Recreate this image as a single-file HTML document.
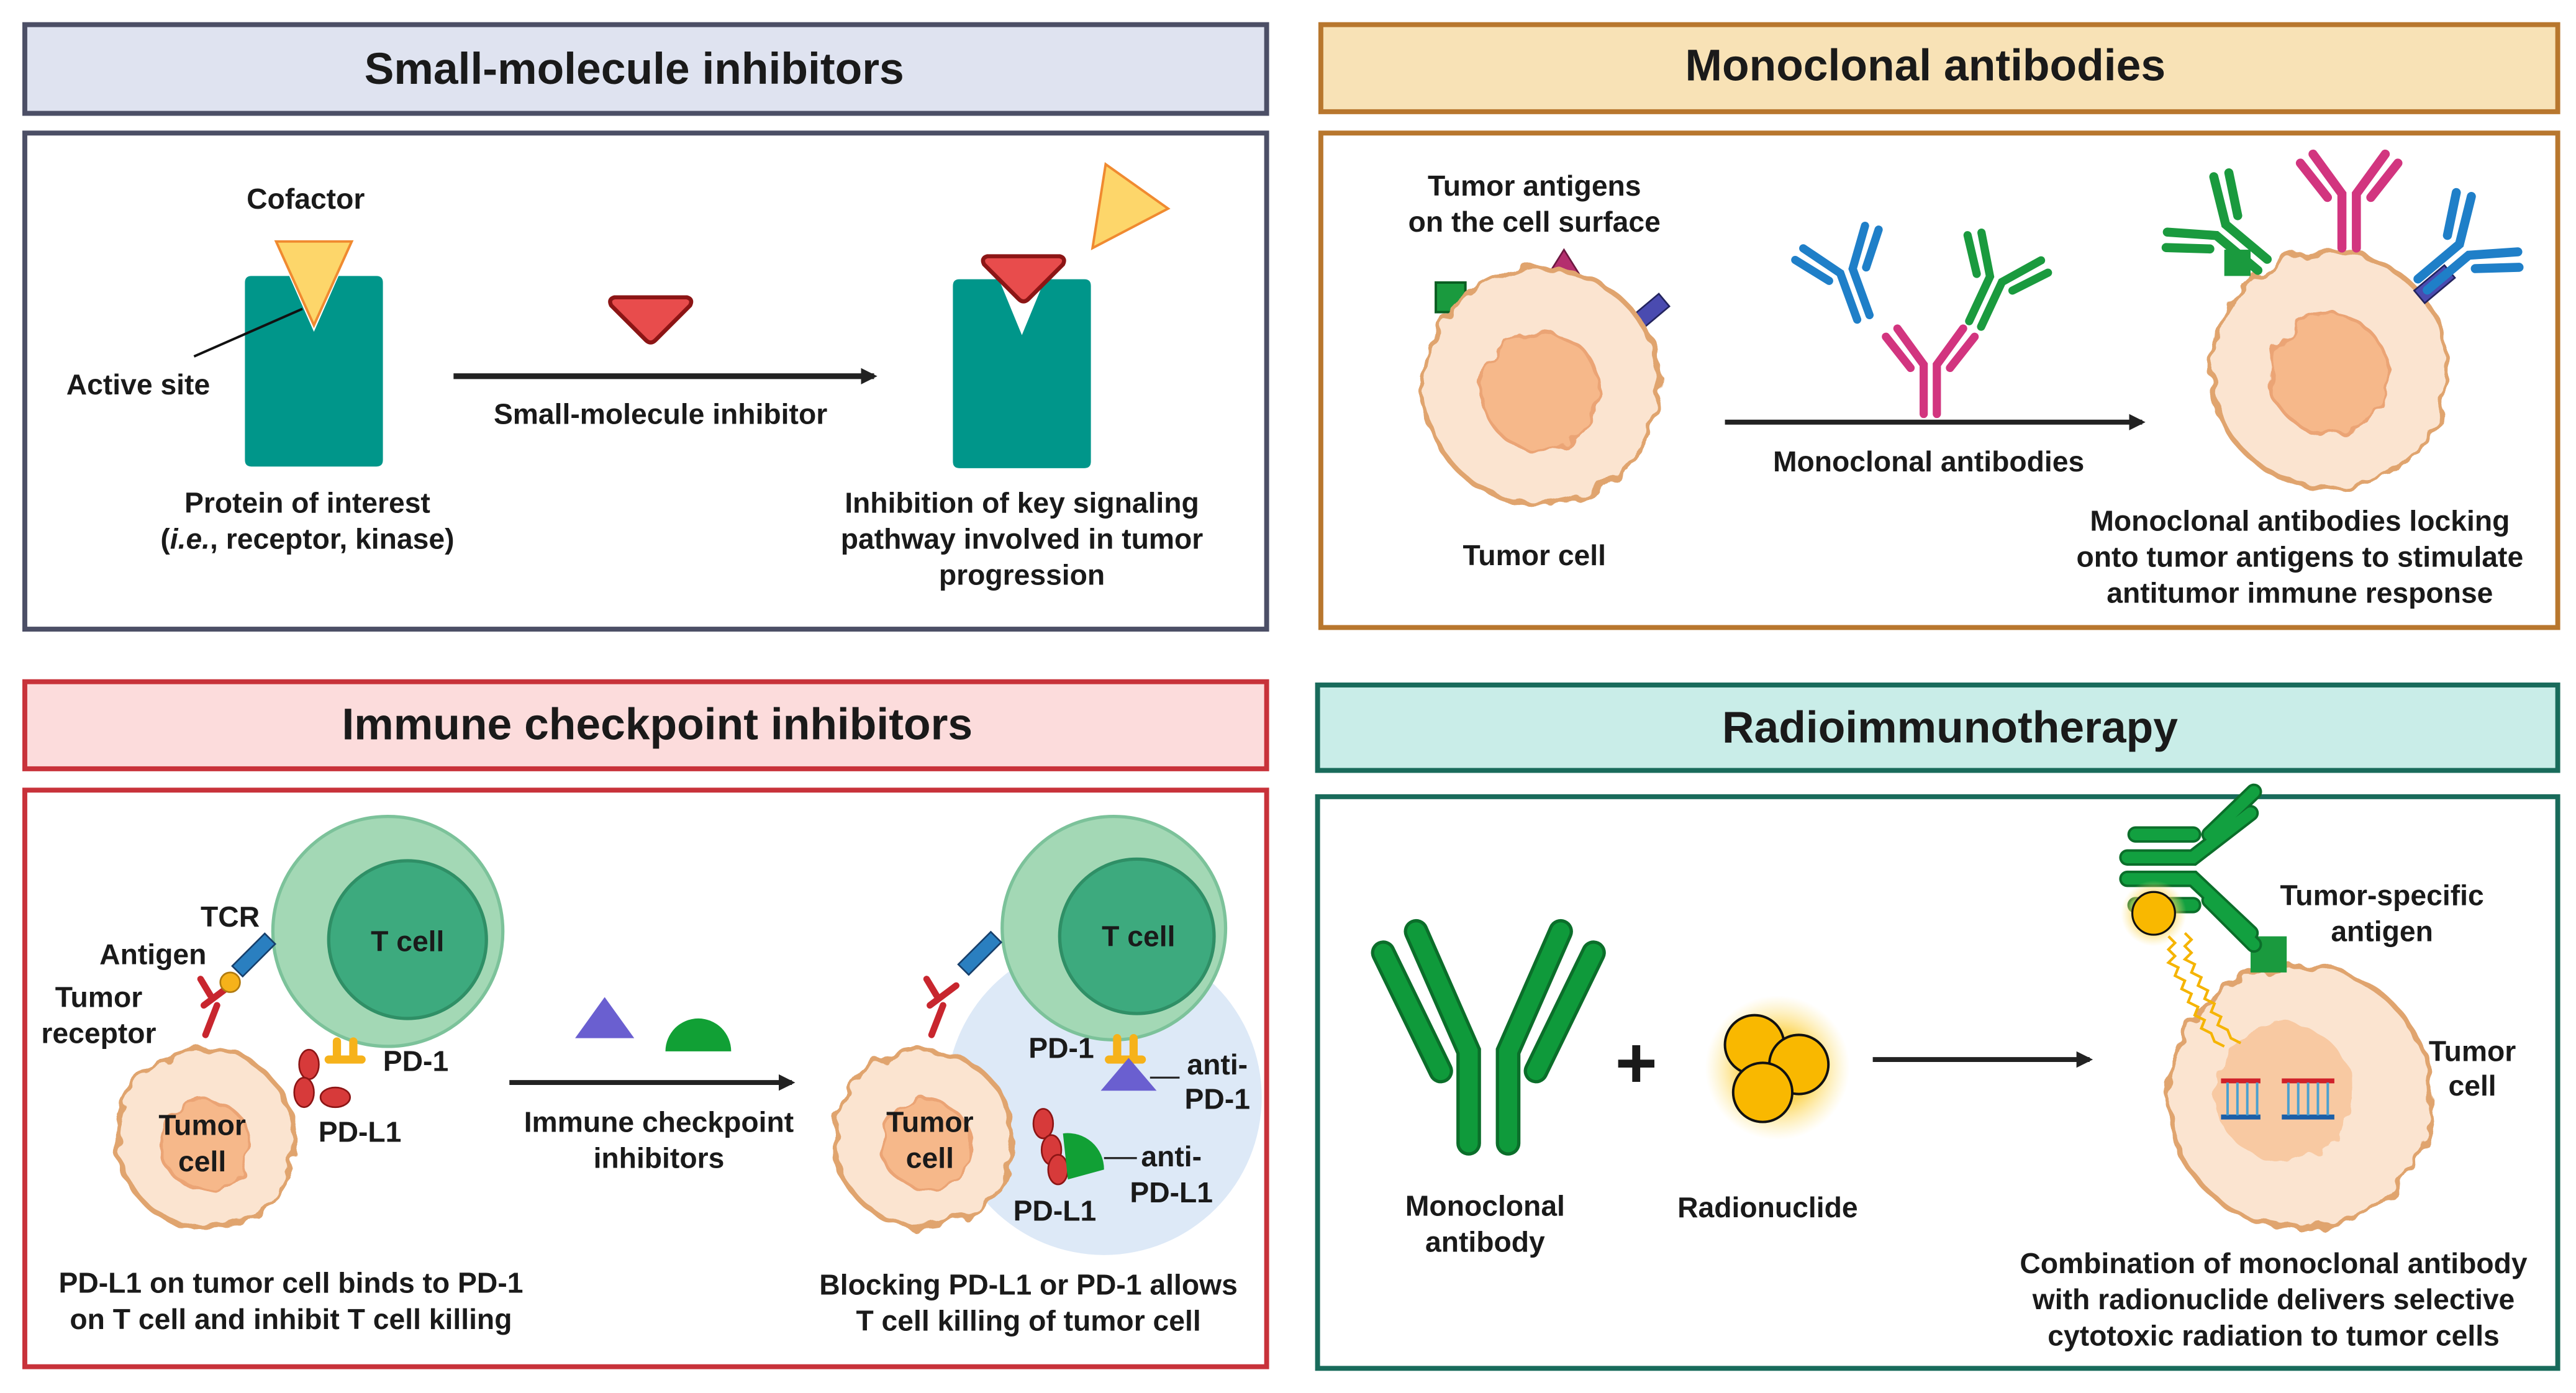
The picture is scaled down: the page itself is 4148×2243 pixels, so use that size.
<!DOCTYPE html>
<html><head><meta charset="utf-8"><style>
html,body{margin:0;padding:0;background:#fff}
svg{display:block}
text{font-family:"Liberation Sans",sans-serif;font-weight:bold;fill:#1a1a1a;text-anchor:middle}
.t{font-size:27px}
.l{font-size:17.5px}
.cell{fill:#fbe4d0;stroke:#e0a46e;stroke-width:3}
.nuc{fill:#f6b88a;stroke:#eba474;stroke-width:2}
</style></head><body>
<svg width="4148" height="2243" viewBox="0 0 1568 848" xmlns="http://www.w3.org/2000/svg">
<defs>
<filter id="wob" x="-20%" y="-20%" width="140%" height="140%">
<feTurbulence type="fractalNoise" baseFrequency="0.08" numOctaves="2" seed="3"/>
<feDisplacementMap in="SourceGraphic" scale="10"/>
</filter>
<radialGradient id="glow"><stop offset="0.5" stop-color="#fcd24a" stop-opacity="0.9"/><stop offset="1" stop-color="#fde58a" stop-opacity="0"/></radialGradient>
<marker id="ah" markerWidth="10" markerHeight="10" refX="8" refY="5" orient="auto" markerUnits="userSpaceOnUse"><path d="M0,0 L10,5 L0,10 Z" fill="#222"/></marker>
<g id="ab">
<path d="M-4,30 L-4,0 L-20,-22 M4,30 L4,0 L20,-22 M-12,2 L-27,-17 M12,2 L27,-17" fill="none" stroke-width="5" stroke-linecap="round"/>
</g>
</defs>

<rect x="15" y="15" width="756" height="54" fill="#dfe3f0" stroke="#4c4f66" stroke-width="3"/>
<rect x="15" y="81" width="756" height="302" fill="#fff" stroke="#4c4f66" stroke-width="3"/>
<rect x="804" y="15" width="753" height="53" fill="#f8e2b6" stroke="#b8772e" stroke-width="3"/>
<rect x="804" y="81" width="753" height="301" fill="#fff" stroke="#b8772e" stroke-width="3"/>
<rect x="15" y="415" width="756" height="53" fill="#fcdcdc" stroke="#c8323a" stroke-width="3"/>
<rect x="15" y="481" width="756" height="351" fill="#fff" stroke="#c8323a" stroke-width="3"/>
<rect x="802" y="417" width="755" height="52" fill="#c9ede8" stroke="#196b5b" stroke-width="3"/>
<rect x="802" y="485" width="755" height="348" fill="#fff" stroke="#196b5b" stroke-width="3"/>

<text class="t" x="386" y="51">Small-molecule inhibitors</text>
<text class="t" x="1172" y="49">Monoclonal antibodies</text>
<text class="t" x="400" y="450">Immune checkpoint inhibitors</text>
<text class="t" x="1187" y="452">Radioimmunotherapy</text>

<text class="l" x="186" y="127">Cofactor</text>
<path d="M149,172 Q149,168 153,168 L176,168 L191,202 L206,168 L229,168 Q233,168 233,172 L233,280 Q233,284 229,284 L153,284 Q149,284 149,280 Z" fill="#00968a"/>
<path d="M168,147 L214,147 L191,198 Z" fill="#fdd66a" stroke="#f08a30" stroke-width="1.5"/>
<line x1="118" y1="217" x2="184" y2="188" stroke="#111" stroke-width="1.5"/>
<text class="l" x="84" y="240">Active site</text>
<line x1="276" y1="229" x2="532" y2="229" stroke="#222" stroke-width="3.5" marker-end="url(#ah)"/>
<path d="M374,181 L418,181 Q422,182 420,186 L399,207 Q396,210 393,207 L372,186 Q370,182 374,181 Z" fill="#e84c4c" stroke="#8c1515" stroke-width="2.5"/>
<text class="l" x="402" y="258">Small-molecule inhibitor</text>
<path d="M580,174 Q580,170 584,170 L608,170 L622,204 L636,170 L660,170 Q664,170 664,174 L664,281 Q664,285 660,285 L584,285 Q580,285 580,281 Z" fill="#00968a"/>
<path d="M601,156 L645,156 Q649,157 647,161 L626,182 Q623,185 620,182 L599,161 Q597,157 601,156 Z" fill="#e84c4c" stroke="#8c1515" stroke-width="2.5"/>
<path d="M673,100 L711,127 L665,151 Z" fill="#fdd66a" stroke="#f08a30" stroke-width="1.5"/>
<text class="l" x="187" y="312">Protein of interest</text>
<text class="l" x="187" y="334">(<tspan font-style="italic">i.e.</tspan>, receptor, kinase)</text>
<text class="l" x="622" y="312">Inhibition of key signaling</text>
<text class="l" x="622" y="334">pathway involved in tumor</text>
<text class="l" x="622" y="356">progression</text>

<text class="l" x="934" y="119">Tumor antigens</text>
<text class="l" x="934" y="141">on the cell surface</text>
<rect x="874" y="172" width="18" height="18" fill="#1a9a3e" stroke="#0b5e22" stroke-width="1.5"/>
<path d="M942,168 L952,152 L962,168 Z" fill="#b42f6e" stroke="#6d1840"/>
<rect x="990" y="186" width="26" height="10" fill="#4a4bb0" stroke="#23245e" transform="rotate(-40 1003 191)"/>
<circle cx="938" cy="235" r="72" class="cell" filter="url(#wob)"/>
<circle cx="938" cy="238" r="36" class="nuc" filter="url(#wob)"/>
<use href="#ab" stroke="#1f7fc8" transform="translate(1124,165) rotate(-20)"/>
<use href="#ab" stroke="#1a9a3e" transform="translate(1215,170) rotate(25)"/>
<use href="#ab" stroke="#d2357f" transform="translate(1175,222)"/>
<line x1="1050" y1="257" x2="1304" y2="257" stroke="#222" stroke-width="3" marker-end="url(#ah)"/>
<text class="l" x="1174" y="287">Monoclonal antibodies</text>
<text class="l" x="934" y="344">Tumor cell</text>
<circle cx="1418" cy="225" r="72" class="cell" filter="url(#wob)"/>
<circle cx="1418" cy="228" r="36" class="nuc" filter="url(#wob)"/>
<rect x="1354" y="152" width="16" height="16" fill="#1a9a3e"/>
<rect x="1470" y="168" width="24" height="10" fill="#4a4bb0" stroke="#23245e" transform="rotate(-40 1482 173)"/>
<use href="#ab" stroke="#1a9a3e" transform="translate(1352,140) rotate(-50) scale(1.1)"/>
<use href="#ab" stroke="#d2357f" transform="translate(1430,118) scale(1.1)"/>
<use href="#ab" stroke="#1f7fc8" transform="translate(1500,152) rotate(50) scale(1.1)"/>
<text class="l" x="1400" y="323">Monoclonal antibodies locking</text>
<text class="l" x="1400" y="345">onto tumor antigens to stimulate</text>
<text class="l" x="1400" y="367">antitumor immune response</text>

<circle cx="236" cy="567" r="70" fill="#a3d8b5" stroke="#7cc29a" stroke-width="2"/>
<circle cx="248" cy="572" r="48" fill="#3daa7e" stroke="#2f8f66" stroke-width="2"/>
<text class="l" x="248" y="579">T cell</text>
<circle cx="125" cy="693" r="54" class="cell" filter="url(#wob)"/>
<circle cx="125" cy="697" r="27" class="nuc" filter="url(#wob)"/>
<text class="l" x="123" y="691">Tumor</text>
<text class="l" x="123" y="713">cell</text>
<rect x="140" y="577" width="28" height="9" fill="#2a7fc0" stroke="#173f6b" transform="rotate(-45 154 581)"/>
<path d="M125,630 L132,612 M124,612 L140,600 M128,606 L122,596" stroke="#c8262e" stroke-width="4" fill="none" stroke-linecap="round"/>
<circle cx="140" cy="598" r="6" fill="#f6b21a" stroke="#b07a10"/>
<text class="l" x="140" y="564">TCR</text>
<text class="l" x="93" y="587">Antigen</text>
<text class="l" x="60" y="613">Tumor</text>
<text class="l" x="60" y="635">receptor</text>
<path d="M205,634 L205,645 M215,634 L215,645 M200,645 L220,645" stroke="#f6b21a" stroke-width="5" stroke-linecap="round" fill="none"/>
<text class="l" x="253" y="652">PD-1</text>
<ellipse cx="188" cy="648" rx="6" ry="9" fill="#d73a3a" stroke="#8c1515"/>
<ellipse cx="185" cy="665" rx="6" ry="9" fill="#d73a3a" stroke="#8c1515"/>
<ellipse cx="204" cy="668" rx="9" ry="6" fill="#d73a3a" stroke="#8c1515"/>
<text class="l" x="219" y="695">PD-L1</text>
<path d="M350,632 L386,632 L368,607 Z" fill="#6a5fd0"/>
<path d="M405,640 A20,20 0 0 1 445,640 Z" fill="#11a035"/>
<line x1="310" y1="659" x2="482" y2="659" stroke="#222" stroke-width="3" marker-end="url(#ah)"/>
<text class="l" x="401" y="689">Immune checkpoint</text>
<text class="l" x="401" y="711">inhibitors</text>
<circle cx="672" cy="668" r="96" fill="#dde9f7"/>
<circle cx="678" cy="565" r="68" fill="#a3d8b5" stroke="#7cc29a" stroke-width="2"/>
<circle cx="692" cy="570" r="47" fill="#3daa7e" stroke="#2f8f66" stroke-width="2"/>
<text class="l" x="693" y="576">T cell</text>
<circle cx="562" cy="693" r="54" class="cell" filter="url(#wob)"/>
<circle cx="564" cy="697" r="27" class="nuc" filter="url(#wob)"/>
<text class="l" x="566" y="689">Tumor</text>
<text class="l" x="566" y="711">cell</text>
<rect x="582" y="576" width="28" height="9" fill="#2a7fc0" stroke="#173f6b" transform="rotate(-45 596 580)"/>
<path d="M567,630 L574,612 M566,612 L582,600 M570,606 L564,596" stroke="#c8262e" stroke-width="4" fill="none" stroke-linecap="round"/>
<path d="M680,632 L680,645 M690,632 L690,645 M675,645 L695,645" stroke="#f6b21a" stroke-width="5" stroke-linecap="round" fill="none"/>
<path d="M670,664 L704,664 L687,644 Z" fill="#6a5fd0"/>
<line x1="700" y1="656" x2="718" y2="656" stroke="#222" stroke-width="1.2"/>
<text class="l" x="646" y="644">PD-1</text>
<text class="l" x="741" y="654">anti-</text>
<text class="l" x="741" y="675">PD-1</text>
<ellipse cx="635" cy="684" rx="6" ry="9" fill="#d73a3a" stroke="#8c1515"/>
<ellipse cx="640" cy="700" rx="6" ry="9" fill="#d73a3a" stroke="#8c1515"/>
<ellipse cx="644" cy="712" rx="6" ry="9" fill="#d73a3a" stroke="#8c1515"/>
<path d="M647,690 A22,22 0 0 1 672,712 L650,718 Z" fill="#11a035"/>
<line x1="672" y1="705" x2="692" y2="705" stroke="#222" stroke-width="1.2"/>
<text class="l" x="713" y="710">anti-</text>
<text class="l" x="713" y="732">PD-L1</text>
<text class="l" x="642" y="743">PD-L1</text>
<text class="l" x="177" y="787">PD-L1 on tumor cell binds to PD-1</text>
<text class="l" x="177" y="809">on T cell and  inhibit T cell killing</text>
<text class="l" x="626" y="788">Blocking PD-L1 or PD-1 allows</text>
<text class="l" x="626" y="810">T cell killing of tumor cell</text>

<g stroke-linecap="round" fill="none">
<path d="M894,696 L894,640 L862,567 M918,696 L918,640 L950,567 M877,652 L842,580 M935,652 L970,580" stroke="#0b6e2a" stroke-width="15"/>
<path d="M894,696 L894,640 L862,567 M918,696 L918,640 L950,567 M877,652 L842,580 M935,652 L970,580" stroke="#0f9a3b" stroke-width="11"/>
</g>
<text x="996" y="662" style="font-size:44px">+</text>
<circle cx="1082" cy="650" r="44" fill="url(#glow)"/>
<circle cx="1068" cy="636" r="18" fill="#f9b800" stroke="#111" stroke-width="1.5"/>
<circle cx="1095" cy="648" r="18" fill="#f9b800" stroke="#111" stroke-width="1.5"/>
<circle cx="1073" cy="665" r="18" fill="#f9b800" stroke="#111" stroke-width="1.5"/>
<line x1="1140" y1="645" x2="1272" y2="645" stroke="#222" stroke-width="3" marker-end="url(#ah)"/>
<text class="l" x="904" y="740">Monoclonal</text>
<text class="l" x="904" y="762">antibody</text>
<text class="l" x="1076" y="741">Radionuclide</text>
<circle cx="1400" cy="668" r="80" class="cell" filter="url(#wob)"/>
<circle cx="1390" cy="665" r="42" fill="#f8c9a2" filter="url(#wob)"/>
<rect x="1370" y="570" width="22" height="22" fill="#1a9a3e"/>
<g stroke-linecap="round" fill="none">
<path d="M1295,535 L1335,535 L1370,568 M1295,522 L1335,522 L1370,495 M1300,551 L1335,551 M1300,508 L1335,508 M1345,548 L1372,575 M1345,508 L1372,482" stroke="#0b6e2a" stroke-width="10"/>
<path d="M1295,535 L1335,535 L1370,568 M1295,522 L1335,522 L1370,495 M1300,551 L1335,551 M1300,508 L1335,508 M1345,548 L1372,575 M1345,508 L1372,482" stroke="#12a040" stroke-width="7"/>
</g>
<circle cx="1311" cy="556" r="20" fill="url(#glow)"/>
<circle cx="1311" cy="556" r="13" fill="#f9b800" stroke="#111" stroke-width="1.2"/>
<path d="M1320,570 l4,4 l-4,4 l4,4 l-4,4 l6,3 l-2,5 l6,3 l-2,5 l6,3 l-2,5 l6,3 l-2,5 l6,3 l-2,5 l6,3 l2,5 l6,3" stroke="#f5b400" stroke-width="1.6" fill="none"/>
<path d="M1330,568 l4,4 l-4,4 l4,4 l-4,4 l6,3 l-2,5 l6,3 l-2,5 l6,3 l-2,5 l6,3 l-2,5 l6,3 l-2,5 l6,3 l2,5 l6,3" stroke="#f5b400" stroke-width="1.6" fill="none"/>
<g stroke-width="1.5">
<line x1="1352" y1="658" x2="1376" y2="658" stroke="#d0212a" stroke-width="3"/>
<line x1="1389" y1="658" x2="1421" y2="658" stroke="#d0212a" stroke-width="3"/>
<line x1="1352" y1="680" x2="1376" y2="680" stroke="#1b5fa8" stroke-width="3"/>
<line x1="1389" y1="680" x2="1421" y2="680" stroke="#1b5fa8" stroke-width="3"/>
<path d="M1356,659 V679 M1362,659 V679 M1368,659 V679 M1374,659 V679 M1393,659 V679 M1399,659 V679 M1405,659 V679 M1411,659 V679 M1417,659 V679" stroke="#4aa0d0"/>
</g>
<text class="l" x="1450" y="551">Tumor-specific</text>
<text class="l" x="1450" y="573">antigen</text>
<text class="l" x="1505" y="646">Tumor</text>
<text class="l" x="1505" y="667">cell</text>
<text class="l" x="1384" y="775">Combination of monoclonal antibody</text>
<text class="l" x="1384" y="797">with radionuclide delivers selective</text>
<text class="l" x="1384" y="819">cytotoxic radiation to tumor cells</text>
</svg>
</body></html>
